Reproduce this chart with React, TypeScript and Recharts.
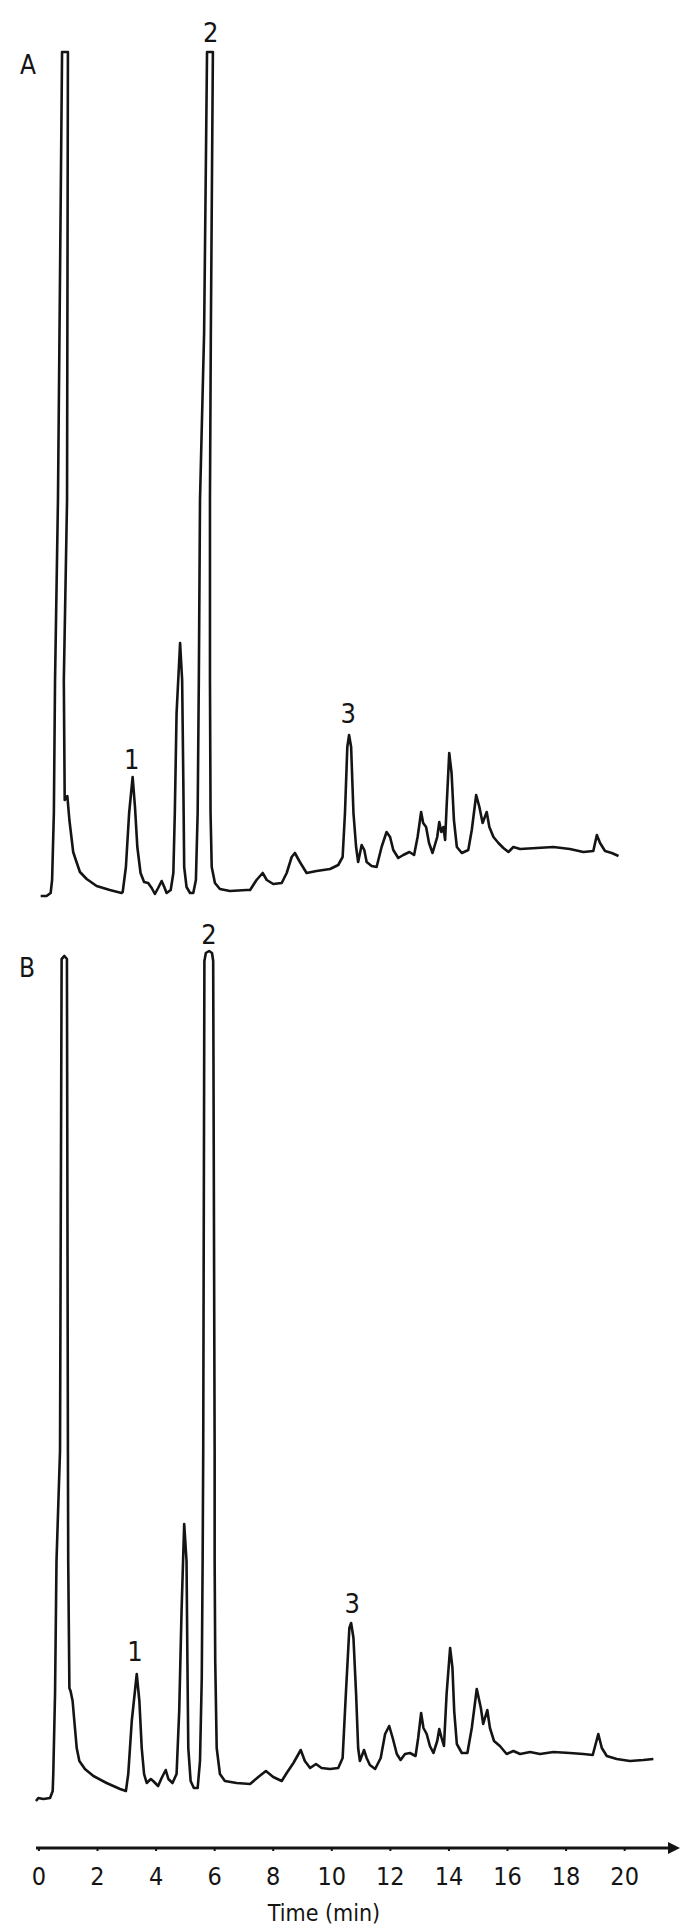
import React from "react";
import { LineChart, Line, XAxis, YAxis, ReferenceDot } from "recharts";

// time (min) and detector response (arbitrary units)
const timeA = [
  0.06, 0.26, 0.4, 0.45, 0.51, 0.55, 0.65, 0.79, 0.99, 0.96, 0.85, 0.88, 0.97, 1.04, 1.17, 1.26,
  1.4, 1.63, 1.97, 2.42, 2.82, 2.86, 2.97, 3.08, 3.2, 3.28, 3.36, 3.47, 3.59, 3.73, 3.85, 3.96,
  4.07, 4.19, 4.28, 4.36, 4.5, 4.59, 4.64, 4.7, 4.82, 4.89, 4.93, 4.96, 5.04, 5.16, 5.27, 5.36,
  5.42, 5.46, 5.5, 5.64, 5.74, 5.94, 5.87, 5.84, 5.84, 5.86, 5.9, 6.01, 6.18, 6.52, 7.09, 7.21,
  7.43, 7.64, 7.78, 8.0, 8.29, 8.46, 8.63, 8.74, 8.91, 9.14, 9.48, 9.94, 10.22, 10.37, 10.45,
  10.53, 10.59, 10.66, 10.74, 10.83, 10.9, 11.02, 11.11, 11.19, 11.36, 11.53, 11.7, 11.87,
  11.99, 12.1, 12.27, 12.44, 12.65, 12.81, 12.93, 13.05, 13.12, 13.22, 13.32, 13.44, 13.6,
  13.67, 13.74, 13.81, 13.87, 13.92, 14.01, 14.09, 14.17, 14.27, 14.44, 14.66, 14.78, 14.93,
  15.04, 15.15, 15.29, 15.38, 15.52, 15.69, 15.86, 16.03, 16.2, 16.43, 17.0, 17.57, 18.13,
  18.59, 18.93, 19.05, 19.16, 19.33, 19.56, 19.79,
];
const responseA = [
  4.4, 4.4, 4.7, 6.0, 12.7, 26.0, 44.0, 88.8, 88.8, 44.0, 26.0, 14.0, 14.4, 12.0, 8.8, 8.0,
  6.8, 6.1, 5.4, 5.0, 4.7, 4.8, 7.3, 12.7, 16.3, 13.3, 9.3, 6.7, 5.8, 5.7, 5.2, 4.6,
  5.2, 5.9, 5.3, 4.7, 5.0, 6.7, 12.7, 22.7, 29.7, 26.0, 16.0, 7.3, 5.3, 4.7, 4.7, 6.0,
  12.7, 26.0, 44.0, 60.7, 88.8, 88.8, 60.7, 44.0, 26.0, 12.7, 7.3, 5.7, 5.1, 4.9, 5.0, 5.0,
  6.0, 6.7, 6.0, 5.6, 5.7, 6.7, 8.3, 8.7, 7.8, 6.7, 6.9, 7.1, 7.5, 8.3, 12.7,
  19.3, 20.5, 19.3, 12.7, 9.3, 7.8, 9.5, 9.0, 7.8, 7.4, 7.3, 9.3, 10.8,
  10.3, 9.0, 8.2, 8.5, 8.8, 8.5, 10.3, 12.8, 11.7, 11.3, 9.7, 8.7, 10.3,
  11.8, 10.8, 11.3, 10.0, 13.3, 18.7, 16.7, 12.0, 9.3, 8.7, 9.0, 11.0, 14.5,
  13.3, 11.7, 12.8, 11.3, 10.3, 9.7, 9.2, 8.8, 9.3, 9.1, 9.2, 9.3, 9.1,
  8.8, 8.9, 10.5, 9.7, 8.9, 8.7, 8.4,
];

const timeB = [
  -0.1, -0.02, 0.15, 0.38, 0.47, 0.49, 0.55, 0.6, 0.72, 0.775, 0.87, 0.956, 0.99, 1.0, 1.04,
  1.08, 1.15, 1.2, 1.29, 1.38, 1.57, 1.86, 2.31, 2.77, 2.97, 3.05, 3.17, 3.34, 3.43, 3.51,
  3.59, 3.68, 3.82, 3.9, 4.07, 4.19, 4.33, 4.42, 4.56, 4.7, 4.79, 4.87, 4.96, 5.04, 5.07,
  5.1, 5.18, 5.29, 5.42, 5.5, 5.56, 5.59, 5.61, 5.65, 5.7, 5.81, 5.91, 5.95, 6.0, 6.0, 6.02,
  6.07, 6.18, 6.35, 6.75, 7.21, 7.49, 7.75, 8.0, 8.29, 8.46, 8.69, 8.94, 9.08, 9.26, 9.46,
  9.65, 9.94, 10.22, 10.37, 10.48, 10.6, 10.66, 10.74, 10.83, 10.9, 10.96, 11.1, 11.19, 11.3,
  11.48, 11.67, 11.82, 11.96, 12.08, 12.22, 12.35, 12.5, 12.67, 12.86, 12.95, 13.05, 13.13,
  13.24, 13.35, 13.47, 13.6, 13.67, 13.75, 13.83, 13.92, 14.04, 14.12, 14.18, 14.27, 14.44,
  14.63, 14.78, 14.95, 15.09, 15.17, 15.31, 15.4, 15.54, 15.74, 15.97, 16.2, 16.43, 16.77,
  17.11, 17.57, 18.13, 18.59, 18.91, 19.1, 19.22, 19.39, 19.73, 20.18, 20.64, 20.98,
];
const responseB = [
  4.7, 5.0, 4.9, 5.0, 5.7, 7.4, 15.4, 28.7, 39.7, 88.9, 89.2, 88.9, 39.7, 28.7, 16.0,
  15.7, 14.7, 13.0, 10.0, 8.7, 7.9, 7.2, 6.5, 5.9, 5.7, 7.4, 12.7, 17.4, 14.7, 10.0,
  7.4, 6.5, 6.9, 6.7, 6.2, 7.0, 7.8, 6.9, 6.5, 7.4, 13.7, 23.7, 32.4, 28.7, 18.7,
  10.0, 6.7, 6.0, 6.0, 8.7, 17.0, 28.7, 39.7, 88.7, 89.5, 89.7, 89.5, 88.7, 39.7, 28.7, 18.7,
  10.0, 7.4, 6.7, 6.5, 6.4, 7.1, 7.7, 7.1, 6.7, 7.5, 8.5, 9.8, 8.7, 8.0, 8.4,
  8.0, 7.9, 8.0, 9.0, 15.4, 22.0, 22.5, 21.0, 15.4, 10.0, 8.7, 9.8, 9.0, 8.3,
  7.9, 9.0, 11.4, 12.2, 11.0, 9.4, 8.8, 9.4, 9.5, 9.2, 11.0, 13.5, 12.0,
  11.4, 10.2, 9.5, 10.7, 11.9, 11.0, 10.2, 15.4, 20.0, 18.0, 13.7, 10.4, 9.5,
  9.5, 12.0, 15.9, 14.0, 12.4, 13.8, 12.0, 10.7, 10.2, 9.4, 9.7, 9.4, 9.6,
  9.4, 9.6, 9.5, 9.4, 9.3, 11.4, 10.0, 9.2, 8.9, 8.7, 8.8, 8.9,
];

const tickMinutes = [0, 2, 4, 6, 8, 10, 12, 14, 16, 18, 20];

const peakLabelsA = [
  { t: 3.17, v: 18.1, text: "1" },
  { t: 5.87, v: 90.8, text: "2" },
  { t: 10.56, v: 22.7, text: "3" },
];
const peakLabelsB = [
  { t: 3.28, v: 19.7, text: "1" },
  { t: 5.81, v: 91.4, text: "2" },
  { t: 10.7, v: 24.5, text: "3" },
];

const dataA = timeA.map((t, i) => ({ t, v: responseA[i] }));
const dataB = timeB.map((t, i) => ({ t, v: responseB[i] }));

const ink = "#141414";
const font = "'DejaVu Sans Condensed', 'DejaVu Sans', sans-serif";
const xDomain = [-0.1, 21.48];

function panelLetter(text: string, left: number, top: number) {
  return (
    <div
      style={{
        position: "absolute",
        left,
        top,
        transform: "translate(-50%, -50%)",
        fontFamily: font,
        fontStretch: "condensed",
        fontSize: 26,
        lineHeight: 1,
        color: ink,
      }}
    >
      {text}
    </div>
  );
}

export default function App() {
  return (
    <div
      style={{
        position: "absolute",
        left: 0,
        top: 0,
        width: 680,
        height: 1929,
        background: "#fff",
        overflow: "hidden",
      }}
    >
      <div style={{ position: "absolute", left: 0, top: 0 }}>
        <LineChart
          width={680}
          height={950}
          data={dataA}
          margin={{ top: 50, right: 12, bottom: 10, left: 36 }}
        >
          <XAxis type="number" dataKey="t" domain={xDomain} hide />
          <YAxis type="number" domain={[0, 89]} hide />
          <Line
            type="linear"
            dataKey="v"
            stroke={ink}
            strokeWidth={2.6}
            strokeLinejoin="round"
            dot={false}
            isAnimationActive={false}
          />
          {peakLabelsA.map((p) => (
            <ReferenceDot
              key={p.text}
              x={p.t}
              y={p.v}
              r={0}
              ifOverflow="visible"
              label={{
                value: p.text,
                position: "center",
                fontSize: 27,
                fontFamily: font,
                fill: ink,
              }}
            />
          ))}
        </LineChart>
      </div>

      <div style={{ position: "absolute", left: 0, top: 915 }}>
        <LineChart
          width={680}
          height={1014}
          data={dataB}
          margin={{ top: 33, right: 12, bottom: 0, left: 36 }}
        >
          <defs>
            <marker
              id="axisArrow"
              markerWidth={14}
              markerHeight={14}
              refX={0}
              refY={6}
              orient="auto"
              markerUnits="userSpaceOnUse"
            >
              <path d="M0,0 L12,6 L0,12 z" fill={ink} />
            </marker>
          </defs>
          <XAxis
            type="number"
            dataKey="t"
            domain={xDomain}
            ticks={tickMinutes}
            interval={0}
            height={81}
            tickSize={3}
            tickMargin={16}
            axisLine={{ stroke: ink, strokeWidth: 2.8, markerEnd: "url(#axisArrow)" }}
            tickLine={{ stroke: ink, strokeWidth: 2 }}
            tick={{ fill: ink, fontSize: 25, fontFamily: font }}
            label={{
              value: "Time (min)",
              position: "insideBottom",
              offset: 8,
              dx: -28,
              fontSize: 23,
              fontFamily: font,
              fill: ink,
            }}
          />
          <YAxis type="number" domain={[0, 90]} hide />
          <Line
            type="linear"
            dataKey="v"
            stroke={ink}
            strokeWidth={2.6}
            strokeLinejoin="round"
            dot={false}
            isAnimationActive={false}
          />
          {peakLabelsB.map((p) => (
            <ReferenceDot
              key={p.text}
              x={p.t}
              y={p.v}
              r={0}
              ifOverflow="visible"
              label={{
                value: p.text,
                position: "center",
                fontSize: 27,
                fontFamily: font,
                fill: ink,
              }}
            />
          ))}
        </LineChart>
      </div>

      {panelLetter("A", 28, 65)}
      {panelLetter("B", 27, 968)}
    </div>
  );
}
